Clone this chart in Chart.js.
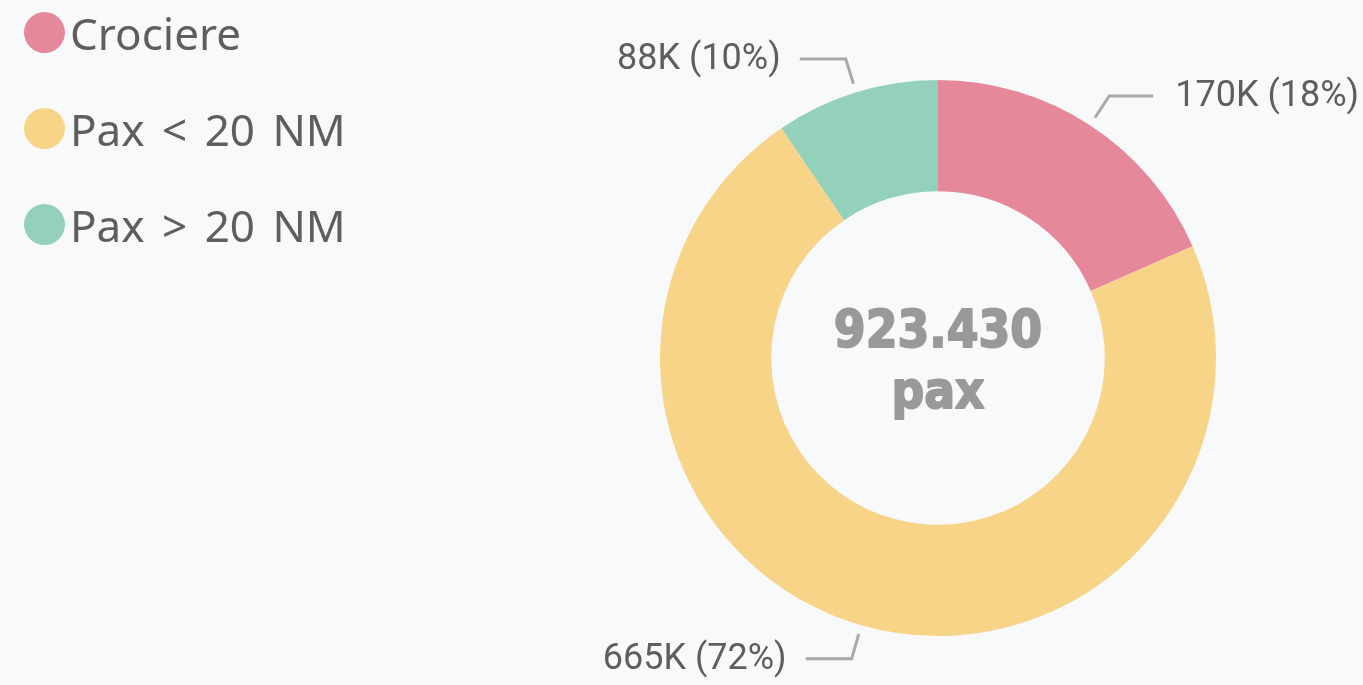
<!DOCTYPE html>
<html>
<head>
<meta charset="utf-8">
<script src="https://cdn.jsdelivr.net/npm/chart.js@4"></script>
<style>
  html, body { margin: 0; padding: 0; background: #f8f9fb; }
  #wrap { position: relative; width: 1363px; height: 685px; }
  #legend { position: absolute; left: 24px; top: 8px; font-family: "Noto Sans", sans-serif; font-size: 44px; word-spacing: 6px; color: #605e5c; }
  #legend div { height: 96px; line-height: 50px; display: flex; align-items: flex-start; white-space: pre; }
  #legend span.dot { display: inline-block; width: 41px; height: 41px; border-radius: 50%; margin-top: 4px; margin-right: 5px; }
</style>
</head>
<body>
<div id="wrap">
  <canvas id="chart" width="1363" height="685"></canvas>
  <div id="legend"></div>
</div>
<script>
let categories = ['Crociere', 'Pax < 20 NM', 'Pax > 20 NM'];
let passengers = [170100, 665400, 87930];
let colors = ['#e5899a', '#f7d488', '#93d1ba'];
let centerLines = ['923.430', 'pax'];

let total = passengers.reduce((a, b) => a + b, 0);

// legend
let legend = document.getElementById('legend');
categories.forEach((name, i) => {
    let row = document.createElement('div');
    let dot = document.createElement('span');
    dot.className = 'dot';
    dot.style.background = colors[i];
    row.appendChild(dot);
    row.appendChild(document.createTextNode(name));
    legend.appendChild(row);
});

let labelPlugin = {
    id: 'outLabels',
    afterDraw(chart) {
        let ctx = chart.ctx;
        let meta = chart.getDatasetMeta(0);
        ctx.save();
        meta.data.forEach((arc, i) => {
            let p = arc.getProps(['x', 'y', 'startAngle', 'endAngle', 'outerRadius'], true);
            let mid = (p.startAngle + p.endAngle) / 2;
            let r1 = p.outerRadius + 9;
            let r2 = p.outerRadius + 35;
            let x1 = p.x + Math.cos(mid) * r1, y1 = p.y + Math.sin(mid) * r1;
            let x2 = p.x + Math.cos(mid) * r2, y2 = p.y + Math.sin(mid) * r2;
            let right = Math.cos(mid) >= 0;
            let x3 = x2 + (right ? 44 : -46);
            ctx.strokeStyle = '#a9a9a9';
            ctx.lineWidth = 3;
            ctx.beginPath();
            ctx.moveTo(x1, y1);
            ctx.lineTo(x2, y2);
            ctx.lineTo(x3, y2);
            ctx.stroke();

            let v = passengers[i];
            let text = Math.round(v / 1000) + 'K (' + Math.round(v / total * 100) + '%)';
            ctx.fillStyle = '#605e5c';
            ctx.font = '36px Roboto';
            ctx.textBaseline = 'middle';
            ctx.textAlign = right ? 'left' : 'right';
            ctx.fillText(text, x3 + (right ? 22 : -19), y2 + 1);
        });

        // center total, slightly narrowed
        let a = meta.data[0];
        ctx.translate(a.x, a.y);
        ctx.scale(0.88, 1);
        ctx.fillStyle = '#999999';
        ctx.strokeStyle = '#999999';
        ctx.lineWidth = 2;
        ctx.lineJoin = 'round';
        ctx.textAlign = 'center';
        ctx.textBaseline = 'alphabetic';
        ctx.font = 'bold 52px "DejaVu Sans"';
        ctx.fillText(centerLines[0], 0, -11);
        ctx.strokeText(centerLines[0], 0, -11);
        ctx.fillText(centerLines[1], 0, 50);
        ctx.strokeText(centerLines[1], 0, 50);
        ctx.restore();
    }
};

new Chart(document.getElementById('chart'), {
    type: 'doughnut',
    data: {
        labels: categories,
        datasets: [
            {
                data: passengers,
                backgroundColor: colors,
                borderWidth: 0
            }
        ]
    },
    options: {
        responsive: false,
        animation: false,
        cutout: '60%',
        layout: {
            padding: { left: 660, right: 147, top: 80, bottom: 49 }
        },
        plugins: {
            legend: { display: false },
            tooltip: { enabled: false }
        }
    },
    plugins: [labelPlugin]
});
</script>
</body>
</html>
